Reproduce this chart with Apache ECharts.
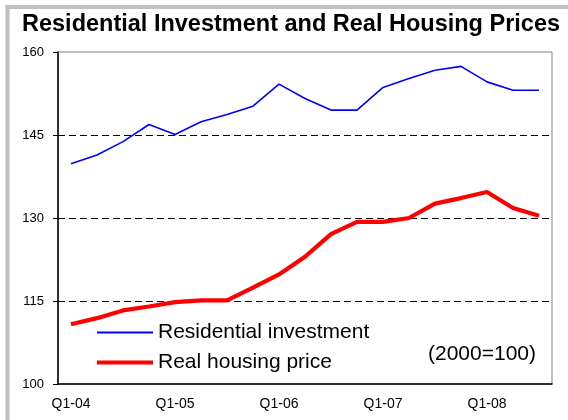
<!DOCTYPE html>
<html>
<head>
<meta charset="utf-8">
<script src="https://cdn.jsdelivr.net/npm/echarts@6/dist/echarts.min.js"></script>
<style>
  html, body { margin: 0; padding: 0; background: #fff; }
  #chart { width: 568px; height: 420px; }
</style>
</head>
<body>
<div id="chart"></div>
<script>
const quarters = [
  'Q1-04', 'Q2-04', 'Q3-04', 'Q4-04',
  'Q1-05', 'Q2-05', 'Q3-05', 'Q4-05',
  'Q1-06', 'Q2-06', 'Q3-06', 'Q4-06',
  'Q1-07', 'Q2-07', 'Q3-07', 'Q4-07',
  'Q1-08', 'Q2-08', 'Q3-08'
]
const residentialInvestment = [
  139.8, 141.4, 143.8, 146.9, 145.1, 147.4, 148.7, 150.2, 154.2, 151.6,
  149.5, 149.5, 153.6, 155.2, 156.7, 157.4, 154.6, 153.1, 153.1
]
const realHousingPrice = [
  110.8, 111.9, 113.3, 114.0, 114.8, 115.1, 115.1, 117.4, 119.8, 123.0,
  127.1, 129.3, 129.3, 130.0, 132.6, 133.6, 134.7, 131.8, 130.4
]
const yTicks = [100, 115, 130, 145, 160]

const font = "'Liberation Sans', Arial, sans-serif"
const chart = echarts.init(document.getElementById('chart'))

chart.setOption({
  animation: false,
  textStyle: { fontFamily: font, color: '#000' },
  title: {
    text: 'Residential Investment and Real Housing Prices',
    left: 22,
    top: 13,
    padding: 0,
    textStyle: { fontFamily: font, fontSize: 23.5, fontWeight: 'bold', color: '#000' }
  },
  graphic: [
    {
      // light grey outer frame
      type: 'rect',
      shape: { x: 7.5, y: 7, width: 600, height: 500 },
      style: { fill: 'none', stroke: '#c0c0c0', lineWidth: 4 },
      z: 0
    },
    {
      type: 'text',
      right: 32,
      top: 344,
      style: { text: '(2000=100)', font: '21px ' + font, fill: '#000' },
      z: 10
    }
  ],
  legend: [
    {
      data: ['Residential investment'],
      left: 97,
      top: 322,
      padding: 0,
      icon: 'rect',
      itemWidth: 56,
      itemHeight: 2,
      textStyle: { fontFamily: font, fontSize: 21, color: '#000' }
    },
    {
      data: ['Real housing price'],
      left: 97,
      top: 352,
      padding: 0,
      icon: 'rect',
      itemWidth: 56,
      itemHeight: 4,
      textStyle: { fontFamily: font, fontSize: 21, color: '#000' }
    }
  ],
  grid: {
    left: 58,
    right: 16,
    top: 52,
    bottom: 36,
    show: true,
    borderColor: '#808080',
    borderWidth: 1
  },
  xAxis: {
    type: 'category',
    data: quarters,
    boundaryGap: true,
    axisLine: { lineStyle: { color: '#000', width: 1.5 } },
    axisTick: { interval: 0, length: 5, lineStyle: { color: '#000' } },
    axisLabel: {
      interval: 3,
      margin: 13,
      fontSize: 14,
      color: '#000',
      fontFamily: font
    },
    splitLine: { show: false }
  },
  yAxis: {
    type: 'value',
    min: yTicks[0],
    max: yTicks[yTicks.length - 1],
    interval: 15,
    axisLine: { show: true, lineStyle: { color: '#000', width: 1.5 } },
    axisTick: { show: true, length: 5, lineStyle: { color: '#000' } },
    axisLabel: { margin: 14, fontSize: 13, color: '#000', fontFamily: font },
    splitLine: {
      show: true,
      lineStyle: {
        color: ['transparent', '#000', '#000', '#000', 'transparent'],
        type: [7, 4],
        width: 1
      }
    }
  },
  series: [
    {
      name: 'Residential investment',
      type: 'line',
      data: residentialInvestment,
      showSymbol: false,
      lineStyle: { color: '#0000ff', width: 1.6 },
      itemStyle: { color: '#0000ff' },
      z: 3
    },
    {
      name: 'Real housing price',
      type: 'line',
      data: realHousingPrice,
      showSymbol: false,
      lineStyle: { color: '#ff0000', width: 4.2 },
      itemStyle: { color: '#ff0000' },
      z: 4
    }
  ]
})
</script>
</body>
</html>
